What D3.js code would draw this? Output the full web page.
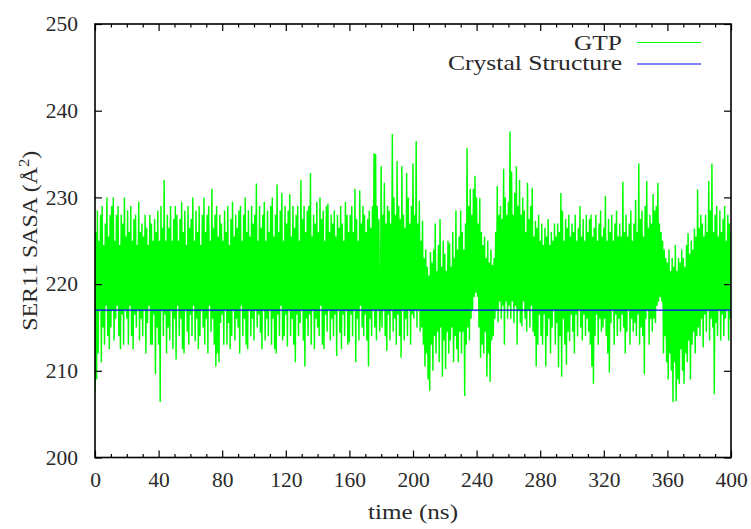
<!DOCTYPE html>
<html>
<head>
<meta charset="utf-8">
<script src="https://cdn.jsdelivr.net/npm/d3@7"></script>
<style>
  html, body { margin: 0; padding: 0; background: #fff; }
  svg { display: block; }
  text { font-family: "Liberation Serif", "Times New Roman", serif; fill: #2a2a2a; }
</style>
</head>
<body>
<svg id="chart" width="751" height="529"></svg>
<script>
// ---- data ----
const timeStart = 0;      // ns
const timeStep = 0.5;     // ns between samples
const gtpSASA = [
  207.5, 226, 209, 228.5, 212, 225, 217, 228, 211, 229, 215, 224.5, 213, 227, 217.5, 230, 214, 225.5, 212.5, 228,
  215, 229, 217, 230, 213.5, 225, 216, 228, 217.5, 229, 214, 224.5, 212.5, 228, 216.5, 227, 213, 230, 217, 225.5,
  216, 228.5, 213, 226, 217.5, 229, 214, 225, 212.5, 227.5, 216.5, 228, 215, 224.5, 217, 229.5, 213.5, 226, 216, 227,
  214, 225.5, 217, 228, 212, 226.5, 215.5, 224.5, 217.5, 228, 213, 227, 213, 225, 216.5, 227.5, 209.6, 226, 215, 228.5,
  213, 225, 206.4, 229, 217, 226.5, 214, 232, 216.5, 225, 212, 228, 215, 226.5, 213.5, 229, 217, 225, 212.5, 227.5,
  216, 229, 211.3, 228, 217.5, 225, 214, 227.5, 216, 229.5, 212.5, 226, 212, 228.5, 217, 224.5, 214.5, 229, 213, 226.5,
  216.5, 227.5, 214, 230, 217.5, 225, 213.4, 228.5, 216, 226, 212.5, 229, 214, 224.5, 217, 228, 215, 230, 213, 226,
  216, 228, 212, 229, 217.5, 225, 214.5, 231, 216, 226.5, 213, 228, 210.5, 229, 212, 225.5, 211, 228, 215.5, 227,
  216.5, 225, 213, 228.5, 217, 226, 213, 229, 215.5, 224.5, 212.5, 227.5, 214, 229.5, 217, 225.5, 213.5, 228, 216, 226.5,
  215, 228.5, 212, 229, 217.5, 225, 214, 228, 216, 230, 213, 226, 212.5, 228.5, 217, 225.5, 214, 229, 216, 227,
  213.5, 228, 217, 231.6, 215, 225, 216.5, 229, 214.4, 226.5, 212.5, 228, 217, 229.5, 213.5, 225, 216, 228.5, 214, 226,
  217, 229, 213, 230, 216, 225.5, 212.5, 228, 212, 231.5, 216.5, 226, 214, 228.5, 217.5, 230.5, 213.5, 225, 214, 229,
  216.5, 227, 212.8, 228.5, 217, 230.4, 214, 225.5, 216, 229, 213, 226.5, 211, 228, 216.5, 229, 214, 225, 215.5, 232,
  217, 227.5, 213.5, 229, 210.5, 226, 216, 228.5, 214, 229, 216.5, 232.8, 213, 225.5, 217, 228, 212.5, 227, 216, 229.5,
  215, 226, 214, 230, 217.5, 227.5, 213, 228.5, 212.5, 225, 216.5, 229, 214.5, 229.3, 217, 226, 213.5, 228, 216, 227,
  214, 228.5, 216.5, 225.5, 211.7, 228, 217, 226.5, 214.4, 229, 212.5, 227, 216.5, 225, 214, 229.5, 217, 228, 213, 226,
  213.3, 228, 216.5, 229, 214, 226, 217, 231, 211, 227.5, 216, 225, 213.5, 230.8, 217.5, 227, 215, 229, 214, 228,
  216.5, 226, 213.5, 227.5, 210.5, 228.5, 216, 226.5, 214, 229, 217, 235.1, 215, 235, 213.5, 229, 217, 227.5, 214.5, 216.5,
  233.6, 215, 228, 217, 231.7, 214, 227, 212.3, 229, 216.5, 228.5, 213.5, 227, 217, 237.3, 214.5, 230, 216, 228, 213,
  234.2, 216.5, 229, 214, 227.5, 211.5, 233.6, 217, 228, 213.5, 226.5, 216, 232.8, 214, 230, 217, 227, 213, 229, 216.5,
  233.9, 216, 228, 217, 236.5, 215, 227, 217, 229.6, 214.5, 225, 215, 227.3, 213, 223, 210.5, 224, 212, 222, 209,
  221, 207.7, 223.7, 213, 222.5, 210, 224, 214, 227, 212, 221.5, 214.5, 224.5, 211, 227.5, 215, 222, 209.3, 225, 213.5,
  223.5, 210.2, 221.5, 214.5, 225, 212, 224.7, 213.5, 222, 215, 226, 211, 223, 214, 228.5, 212.5, 224, 211, 225.5, 214.5,
  228.5, 212, 226, 214.5, 224, 207.1, 227, 213, 235.7, 215, 229, 213.5, 231, 216, 228, 217, 231, 218.5, 232.5, 219,
  230, 218.5, 227, 215, 229.9, 211.5, 226, 213, 224.5, 212, 225.5, 214.5, 223, 209.3, 225, 212, 222.5, 208.7, 224, 213.5,
  222.2, 214, 223, 216, 226, 217, 231.3, 215.6, 228, 218, 229, 216, 227.5, 217.5, 233.3, 213, 230, 218, 228, 216,
  229.5, 217.5, 237.6, 216, 233, 218, 228, 215.5, 230.5, 217.5, 233.6, 213, 229, 217, 232, 215.5, 228, 215.1, 230, 218,
  228.5, 216, 226, 214.5, 231.7, 217, 227.5, 215, 229, 217.5, 231.1, 214.5, 225.5, 214, 227.3, 210.5, 226.5, 213, 228, 216.5,
  225, 214, 227, 213, 224.5, 216.5, 226.5, 210.5, 225.5, 214, 227.5, 216, 224.5, 212, 226, 215, 225, 217, 227, 213,
  225.5, 215.5, 227, 210.4, 226, 214, 230.5, 209.3, 228.5, 216, 225, 213, 227.5, 210.7, 226.5, 214.5, 228, 213.4, 225.5, 216.5,
  227, 214.5, 226, 212, 228, 216.5, 225, 214, 226.5, 217, 229, 215, 225.5, 213.5, 227.5, 216.5, 225, 214, 228, 216,
  226, 214.5, 227.5, 213, 228, 210.5, 225.5, 208.5, 226.5, 214, 228, 216.5, 225, 213, 227, 216, 228.5, 214.5, 225.5, 215,
  226.5, 216, 230.2, 214, 225, 212, 227.5, 209.8, 226, 215.5, 228, 217, 225, 213, 227, 216.5, 228.5, 214, 225.5, 216,
  227, 214.5, 225.5, 216.5, 231.8, 215, 226, 212, 228, 214.5, 225.5, 217, 227, 213, 228.5, 216, 225, 214.5, 227, 215.5,
  229.7, 214, 226, 216.5, 233.9, 213, 227.5, 215, 228.5, 214, 225.5, 209.6, 229, 216, 231.9, 217, 226.5, 213, 228, 216,
  227, 214.5, 230.4, 216, 228.5, 215.5, 229, 217.5, 231.7, 218, 227, 218.5, 226, 218, 225, 212, 224, 214, 223, 211,
  222.5, 209, 224, 212, 221.5, 210, 223, 206.4, 222, 211, 224.5, 206.5, 221.5, 209, 223, 208.5, 222.5, 212.5, 224, 210,
  223, 208.5, 222, 212, 224.5, 211, 225.9, 213.5, 223.5, 209, 225, 213, 224, 214.5, 226.4, 212, 225.5, 214, 230.9, 215,
  226.5, 214, 228, 216, 227, 212.7, 225.5, 216.5, 228, 214.5, 226, 217, 231.9, 213.5, 228.5, 216, 233.9, 215, 226, 207.3,
  228, 215.5, 229, 214, 225.5, 217, 228.5, 213.5, 226, 216.5, 227.5, 214, 229, 216, 225, 217, 228, 213.5, 227, 216,
  226
];
const crystalSASA = 217;
const xTicks = [0, 40, 80, 120, 160, 200, 240, 280, 320, 360, 400];
const xMinorTicks = [10, 20, 30, 50, 60, 70, 90, 100, 110, 130, 140, 150, 170, 180, 190,
  210, 220, 230, 250, 260, 270, 290, 300, 310, 330, 340, 350, 370, 380, 390];
const yTicks = [200, 210, 220, 230, 240, 250];
const seriesNames = ["GTP", "Crystal Structure"];
const seriesColors = ["#00ff00", "#0000ff"];
const xLabel = "time (ns)";

// ---- layout ----
const L = 95, R = 731, T = 24, B = 457.5;
const svg = d3.select("#chart");
const x = d3.scaleLinear().domain([0, 400]).range([L, R]);
const y = d3.scaleLinear().domain([200, 250]).range([B, T]);

const pts = gtpSASA.map((v, i) => [timeStart + i * timeStep, v]);

svg.append("clipPath").attr("id", "clip")
  .append("rect").attr("x", L).attr("y", T).attr("width", R - L).attr("height", B - T);

const g = svg.append("g").attr("clip-path", "url(#clip)");
g.append("path")
  .datum(pts)
  .attr("fill", "none")
  .attr("stroke", seriesColors[0])
  .attr("stroke-width", 1.45)
  .attr("stroke-linejoin", "bevel")
  .attr("d", d3.line().x(d => x(d[0])).y(d => y(d[1])));

g.append("line")
  .attr("x1", x(0)).attr("x2", x(400))
  .attr("y1", y(crystalSASA)).attr("y2", y(crystalSASA))
  .attr("stroke", seriesColors[1]).attr("stroke-width", 1.1);

// ---- axes (gnuplot style: inward ticks, mirrored) ----
const fs = 21.5;
const serif = '"Liberation Serif", "Times New Roman", serif';
const axBottom = d3.axisBottom(x).tickValues(xTicks).tickSize(-7).tickPadding(14).tickFormat(d3.format("d"));
const axTop = d3.axisTop(x).tickValues(xTicks).tickSize(-7).tickFormat("");
const axLeft = d3.axisLeft(y).tickValues(yTicks).tickSize(-7).tickPadding(17).tickFormat(d3.format("d"));
const axRight = d3.axisRight(y).tickValues(yTicks).tickSize(-7).tickFormat("");
const axBottomMinor = d3.axisBottom(x).tickValues(xMinorTicks).tickSize(-3.5).tickFormat("");
const axTopMinor = d3.axisTop(x).tickValues(xMinorTicks).tickSize(-3.5).tickFormat("");

function styleAxis(sel) {
  sel.attr("font-family", serif).attr("font-size", fs);
  sel.select(".domain").remove();
  sel.selectAll(".tick line").attr("stroke", "#000").attr("stroke-width", 1.2);
  sel.selectAll(".tick text").attr("fill", "#2a2a2a");
}
[ [axBottom, `translate(0,${B})`], [axTop, `translate(0,${T})`],
  [axLeft, `translate(${L},0)`], [axRight, `translate(${R},0)`],
  [axBottomMinor, `translate(0,${B})`], [axTopMinor, `translate(0,${T})`] ]
  .forEach(([ax, tr]) => svg.append("g").attr("transform", tr).call(ax).call(styleAxis));

svg.append("rect").attr("x", L).attr("y", T).attr("width", R - L).attr("height", B - T)
  .attr("fill", "none").attr("stroke", "#000").attr("stroke-width", 1.6);

// axis titles
svg.append("text").attr("x", (L + R) / 2).attr("y", 519)
  .attr("text-anchor", "middle").attr("font-size", fs)
  .attr("textLength", 90).attr("lengthAdjust", "spacingAndGlyphs")
  .text(xLabel);

const yl = svg.append("text")
  .attr("transform", `translate(37,${(T + B) / 2}) rotate(-90)`)
  .attr("text-anchor", "middle").attr("font-size", fs)
  .attr("textLength", 180).attr("lengthAdjust", "spacingAndGlyphs");
yl.append("tspan").text("SER11 SASA (Å");
yl.append("tspan").attr("dy", -8).attr("font-size", fs * 0.7).text("2");
yl.append("tspan").attr("dy", 8).text(")");

// legend
const legY = [50, 70];
const legLineY = [42.5, 64];
const legW = [48, 174];
seriesNames.forEach((name, i) => {
  svg.append("text").attr("x", 622).attr("y", legY[i]).attr("text-anchor", "end")
    .attr("font-size", fs).attr("textLength", legW[i]).attr("lengthAdjust", "spacingAndGlyphs")
    .text(name);
  svg.append("line").attr("x1", 637).attr("x2", 701)
    .attr("y1", legLineY[i]).attr("y2", legLineY[i])
    .attr("stroke", seriesColors[i]).attr("stroke-width", 1.1);
});
</script>
</body>
</html>
